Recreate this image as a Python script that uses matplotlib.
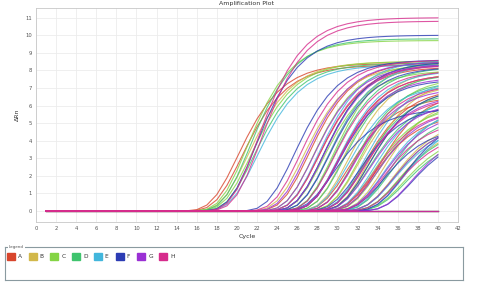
import numpy as np
import matplotlib
matplotlib.use('Agg')
import matplotlib.pyplot as plt
from matplotlib.patches import Rectangle

# Wells per row: plateau (delta Rn) and cycle where curve hits half of plateau
rows = ['A', 'B', 'C', 'D', 'E', 'F', 'G', 'H']
row_colors = ['#d8452c', '#d2b84a', '#84d444', '#3fc46e', '#42b6dc', '#2c3cb4', '#9a30d4', '#d62c8c']

plateau_A = [8.4, 8.3, 8.2, 7.8, 7.0, 6.5, 0.0, 0.0, 5.5, 8.5, 6.8, 0.0]
half_A = [21.0, 21.4, 29.0, 31.0, 33.5, 32.0, 0, 0, 34.5, 28.0, 35.0, 0]
plateau_B = [8.5, 8.4, 7.9, 7.5, 6.0, 5.2, 8.3, 7.2, 4.8, 6.5, 8.1, 0.0]
half_B = [22.0, 30.0, 32.0, 34.0, 36.0, 36.5, 27.5, 33.0, 37.0, 35.5, 31.5, 0]
plateau_C = [9.7, 8.5, 8.6, 7.6, 6.2, 5.0, 8.0, 7.0, 4.4, 8.4, 6.0, 0.0]
half_C = [21.9, 22.3, 30.5, 33.0, 35.0, 36.5, 29.5, 34.0, 37.5, 28.5, 34.5, 0]
plateau_D = [9.8, 8.4, 8.5, 7.4, 6.4, 5.5, 8.2, 4.7, 7.8, 6.8, 4.2, 0.0]
half_D = [22.2, 22.6, 29.5, 32.5, 34.0, 36.0, 30.5, 37.0, 31.5, 33.5, 37.6, 0]
plateau_E = [8.3, 8.6, 8.0, 7.5, 6.5, 5.8, 8.4, 4.8, 7.2, 6.0, 5.2, 0.0]
half_E = [22.9, 29.0, 31.0, 33.5, 34.5, 35.5, 30.0, 36.5, 32.0, 36.0, 37.5, 0]
plateau_F = [10.0, 8.6, 8.5, 7.5, 6.0, 5.8, 4.8, 4.4, 8.2, 7.0, 5.4, 0.0]
half_F = [22.8, 26.6, 29.5, 31.0, 33.0, 30.5, 35.5, 38.3, 30.0, 34.0, 37.5, 0]
plateau_G = [8.5, 8.4, 7.6, 7.0, 6.2, 5.6, 4.6, 8.3, 5.0, 6.6, 5.8, 0.0]
half_G = [27.8, 29.5, 31.0, 32.5, 34.0, 35.5, 38.3, 28.5, 36.5, 33.5, 34.8, 0]
plateau_H = [11.0, 10.8, 8.6, 8.3, 7.8, 7.2, 6.5, 5.8, 5.2, 4.5, 8.0, 0.0]
half_H = [23.0, 23.3, 27.2, 29.0, 31.0, 32.5, 33.5, 34.5, 35.5, 37.0, 30.5, 0]

plateaus = [plateau_A, plateau_B, plateau_C, plateau_D, plateau_E, plateau_F, plateau_G, plateau_H]
halves = [half_A, half_B, half_C, half_D, half_E, half_F, half_G, half_H]

cycles = np.arange(1, 41)


def amp_curve(P, h, s=2.6):
    # Gompertz shape, equals P/2 at cycle h
    if P == 0:
        return np.zeros_like(cycles, dtype=float)
    m = h - np.log(1 / np.log(2)) * s
    return P * np.exp(-np.exp(-(cycles - m) / s))


fig = plt.figure(figsize=(4.81, 2.82), dpi=100)
ax = fig.add_axes([36 / 481, 60 / 282, 422 / 481, 214 / 282])

for r in range(len(rows)):
    for P, h in zip(plateaus[r], halves[r]):
        ax.plot(cycles, amp_curve(P, h), color=row_colors[r], lw=0.8, alpha=0.8)

ax.set_xlim(0, 42)
ax.set_ylim(-0.63, 11.55)
ax.set_xticks(np.arange(0, 43, 2))
ax.set_yticks(np.arange(0, 12, 1))
ax.grid(True, color='#ececec', lw=0.6)
ax.set_axisbelow(True)
for sp in ax.spines.values():
    sp.set_color('#c8c8c8')
    sp.set_linewidth(0.6)
ax.tick_params(labelsize=3.8, colors='#555555', length=0, pad=3)
ax.set_title('Amplification Plot', fontsize=4.5, pad=2, color='#333333')
ax.set_xlabel('Cycle', fontsize=4.5, labelpad=2, color='#333333')
ax.set_ylabel('ΔRn', fontsize=4.5, labelpad=4, color='#333333')

# legend box at the bottom
lax = fig.add_axes([5 / 481, 2 / 282, 458 / 481, 33 / 282])
lax.set_xlim(0, 458)
lax.set_ylim(33, 0)
lax.set_xticks([])
lax.set_yticks([])
for sp in lax.spines.values():
    sp.set_color('#8a9aa0')
    sp.set_linewidth(0.8)
lax.text(4, 0, 'Legend', fontsize=3, color='#555555', va='center', ha='left',
         bbox=dict(facecolor='white', edgecolor='none', pad=0.5))
for i, name in enumerate(rows):
    x0 = 2 + i * 21.7
    lax.add_patch(Rectangle((x0, 6), 8, 7, color=row_colors[i]))
    lax.text(x0 + 11, 9.5, name, fontsize=4.2, color='#333333', va='center', ha='left')

fig.savefig('out.png', dpi=100)
